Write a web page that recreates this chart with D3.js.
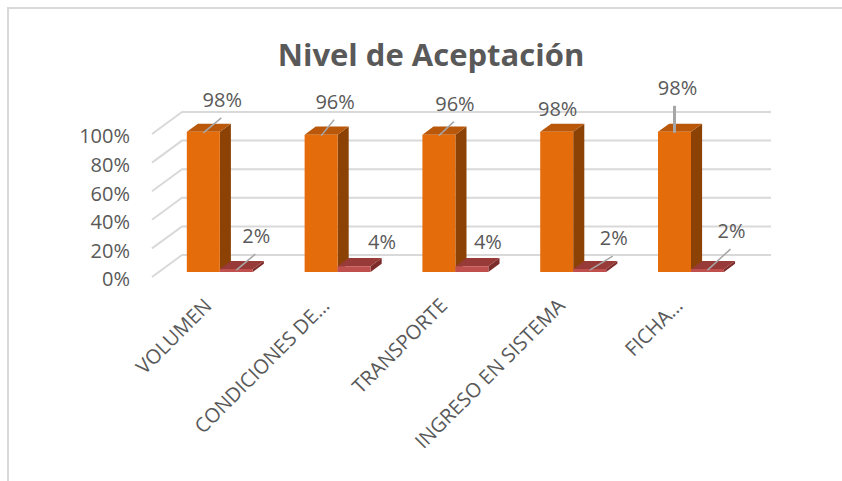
<!DOCTYPE html>
<html>
<head>
<meta charset="utf-8">
<script src="https://cdn.jsdelivr.net/npm/d3@7"></script>
<style>
  html, body { margin: 0; padding: 0; background: #fff; }
  svg { display: block; }
  text { font-family: "Open Sans", "Noto Sans", sans-serif; fill: #595959; }
</style>
</head>
<body>
<svg id="chart" width="842" height="481"></svg>
<script>
// ---- data ----
const categories = ["VOLUMEN", "CONDICIONES DE…", "TRANSPORTE", "INGRESO EN SISTEMA", "FICHA…"];
const seriesNames = ["Aceptado", "No aceptado"];
const aceptado = [0.98, 0.96, 0.96, 0.98, 0.98];
const noAceptado = [0.02, 0.04, 0.04, 0.02, 0.02];
const yTicks = [0, 0.2, 0.4, 0.6, 0.8, 1.0];
const title = "Nivel de Aceptación";

// ---- layout / style ----
const W = 842, H = 481;
const depthVec = [30, -22];            // projection of the full floor depth
const barDepth = [0.23, 0.60];         // bars sit in the middle of the floor
const wallRange = [152, 741];          // front-plane x extent of the walls
const bandRange = [154, 743];
const seriesColors = [
  { front: "#E46C0A", top: "#B9580A", side: "#8C4205" },
  { front: "#C0504D", top: "#983A37", side: "#7C2C2A" }
];
// label nudges (dx, dy from the top-centre of each bar's front face) and leader flags
const labelNudge = [
  [[19, -30, 1], [14, -31, 1], [16, -29, 1], [1, -21, 0], [3, -42, 2]],
  [[20, -31, 1], [28, -23, 0], [16, -23, 0], [24, -29, 1], [24, -36, 1]]
];

const svg = d3.select("#chart");

// outer chart frame
svg.append("rect")
  .attr("x", 8).attr("y", 8).attr("width", W).attr("height", H)
  .attr("fill", "#fff").attr("stroke", "#D9D9D9").attr("stroke-width", 2);

// title
svg.append("text")
  .attr("x", 431).attr("y", 66)
  .attr("text-anchor", "middle")
  .style("font-size", "31px").style("font-weight", "bold")
  .text(title);

const y = d3.scaleLinear().domain([0, 1]).range([277, 134]);
const x = d3.scaleBand().domain(categories).range(bandRange)
  .paddingInner(0.44).paddingOuter(0.22);
const sub = d3.scaleBand().domain(seriesNames).range([0, x.bandwidth()]).padding(0);

// project a front-plane point (px, value) pushed back by depth fraction d
const P = (px, v, d) => [px + d * depthVec[0], y(v) + d * depthVec[1]];
const pts = arr => arr.map(p => p.join(",")).join(" ");

// gridlines: side wall diagonals + back wall lines
const grid = svg.append("g").attr("stroke", "#D9D9D9").attr("stroke-width", 2).attr("fill", "none");
yTicks.forEach(t => {
  const a = P(wallRange[0], t, 0), b = P(wallRange[0], t, 1), c = P(wallRange[1], t, 1);
  grid.append("polyline").attr("points", pts([a, b, c]));
});

// y-axis labels
svg.append("g").selectAll("text").data(yTicks).join("text")
  .attr("x", 130).attr("y", d => y(d) + 4)
  .attr("text-anchor", "end").attr("dominant-baseline", "middle")
  .style("font-size", "20px")
  .text(d => d3.format(".0%")(d));

// bars
const series = [aceptado, noAceptado];
const barG = svg.append("g");
categories.forEach((cat, i) => {
  series.forEach((vals, s) => {
    const v = vals[i];
    const x0 = x(cat) + sub(seriesNames[s]);
    const x1 = x0 + sub.bandwidth();
    const [d0, d1] = barDepth;
    const c = seriesColors[s];
    // side face
    barG.append("polygon")
      .attr("points", pts([P(x1, 0, d0), P(x1, 0, d1), P(x1, v, d1), P(x1, v, d0)]))
      .attr("fill", c.side);
    // top face
    barG.append("polygon")
      .attr("points", pts([P(x0, v, d0), P(x1, v, d0), P(x1, v, d1), P(x0, v, d1)]))
      .attr("fill", c.top);
    // front face
    barG.append("polygon")
      .attr("points", pts([P(x0, 0, d0), P(x1, 0, d0), P(x1, v, d0), P(x0, v, d0)]))
      .attr("fill", c.front);
  });
});

// data labels with leader lines
const labG = svg.append("g");
categories.forEach((cat, i) => {
  series.forEach((vals, s) => {
    const v = vals[i];
    const x0 = x(cat) + sub(seriesNames[s]);
    const [ax, ay] = P(x0 + sub.bandwidth() / 2, v, barDepth[0]);
    const [ndx, ndy, leader] = labelNudge[s][i];
    const lx = ax + ndx, ly = ay + ndy;
    if (leader) {
      const ex = leader === 2 ? ax : lx - 1;
      labG.append("line")
        .attr("x1", ax).attr("y1", ay + 1)
        .attr("x2", ex).attr("y2", ly + 16)
        .attr("stroke", "#A6A6A6").attr("stroke-width", leader === 2 ? 3 : 1.5);
    }
    labG.append("text")
      .attr("x", lx).attr("y", ly)
      .attr("text-anchor", "middle").attr("dominant-baseline", "middle")
      .style("font-size", "20px")
      .text(d3.format(".0%")(v));
  });
});

// category labels, rotated
svg.append("g").selectAll("text").data(categories).join("text")
  .attr("transform", d => {
    const tx = x(d) + x.bandwidth() / 2;
    return `translate(${tx},${y(0) + 30}) rotate(-45)`;
  })
  .attr("text-anchor", "end")
  .style("font-size", "20px")
  .text(d => d);
</script>
</body>
</html>
